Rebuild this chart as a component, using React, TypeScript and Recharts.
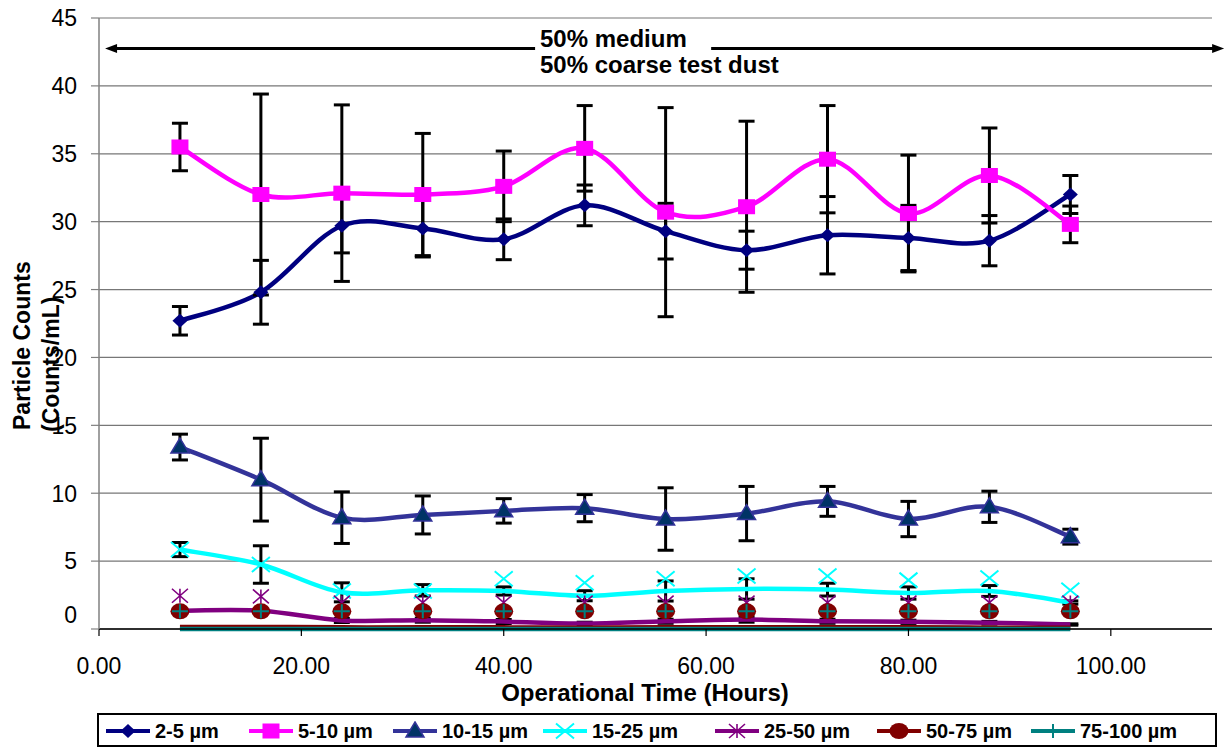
import React from 'react'
import { LineChart, Line, XAxis, YAxis, CartesianGrid, ErrorBar, ReferenceLine } from 'recharts'

const FONT = '"Liberation Sans", Arial, sans-serif'

// sampling times (hours)
const hours = [8, 16, 24, 32, 40, 48, 56, 64, 72, 80, 88, 96]

// mean counts and standard deviations per size band
const c2to5 = [22.7, 24.8, 29.7, 29.5, 28.7, 31.2, 29.3, 27.9, 29.0, 28.8, 28.6, 32.0]
const sd2to5 = [1.05, 2.35, 2.0, 2.1, 1.5, 1.5, 2.05, 1.4, 2.85, 2.4, 1.85, 1.4]

const c5to10 = [35.5, 32.0, 32.1, 32.0, 32.6, 35.4, 30.7, 31.1, 34.6, 30.6, 33.4, 29.8]
const sd5to10 = [1.75, 7.4, 6.5, 4.5, 2.6, 3.15, 7.7, 6.3, 3.95, 4.3, 3.5, 1.35]

const c10to15 = [13.4, 11.0, 8.2, 8.4, 8.7, 8.9, 8.1, 8.5, 9.4, 8.1, 9.0, 6.8]
const sd10to15 = [0.95, 3.05, 1.9, 1.4, 0.9, 1.0, 2.3, 2.0, 1.1, 1.3, 1.15, 0.55]

const c15to25 = [5.85, 4.75, 2.7, 2.85, 2.8, 2.45, 2.8, 2.95, 2.9, 2.65, 2.8, 1.95]
const sd15to25 = [0.52, 1.38, 0.7, 0.42, 0.3, 0.37, 0.74, 0.75, 0.47, 0.45, 0.4, 0.12]
const mk15to25 = [5.85, 4.75, 2.8, 2.8, 3.7, 3.4, 3.7, 3.9, 3.9, 3.6, 3.75, 2.85]

const c25to50 = [1.35, 1.35, 0.63, 0.65, 0.55, 0.4, 0.57, 0.7, 0.57, 0.53, 0.46, 0.33]
const sd25to50 = [0.1, 0.1, 0.15, 0.15, 0.15, 0.1, 0.15, 0.2, 0.15, 0.12, 0.1, 0.05]
const mk25to50 = [2.45, 2.4, 1.95, 1.95, 1.95, 1.95, 1.95, 1.95, 1.95, 1.95, 1.95, 1.95]

const c50to75 = [0.15, 0.15, 0.12, 0.12, 0.12, 0.1, 0.12, 0.12, 0.12, 0.12, 0.1, 0.1]
const mk50to75 = [1.3, 1.3, 1.3, 1.3, 1.3, 1.3, 1.3, 1.3, 1.3, 1.3, 1.3, 1.3]

const c75to100 = [0, 0, 0, 0, 0, 0, 0, 0, 0, 0, 0, 0]
const mk75to100 = [1.3, 1.3, 1.3, 1.3, 1.3, 1.3, 1.3, 1.3, 1.3, 1.3, 1.3, 1.3]

const xTicks = [0, 20, 40, 60, 80, 100]
const yTicks = [0, 5, 10, 15, 20, 25, 30, 35, 40, 45]

const rows = hours.map((t, i) => ({
  t,
  a: c2to5[i], ae: sd2to5[i],
  b: c5to10[i], be: sd5to10[i],
  c: c10to15[i], ce: sd10to15[i],
  d: c15to25[i], de: sd15to25[i], dm: mk15to25[i],
  e: c25to50[i], ee: sd25to50[i], em: mk25to50[i],
  f: c50to75[i], fm: mk50to75[i],
  g: c75to100[i], gm: mk75to100[i],
}))

type Kind = 'diamond' | 'square' | 'triangle' | 'x' | 'star' | 'circle' | 'plus'

const series: { name: string; color: string; kind: Kind }[] = [
  { name: '2-5 µm', color: '#000080', kind: 'diamond' },
  { name: '5-10 µm', color: '#FF00FF', kind: 'square' },
  { name: '10-15 µm', color: '#333399', kind: 'triangle' },
  { name: '15-25 µm', color: '#00FFFF', kind: 'x' },
  { name: '25-50 µm', color: '#800080', kind: 'star' },
  { name: '50-75 µm', color: '#800000', kind: 'circle' },
  { name: '75-100 µm', color: '#008080', kind: 'plus' },
]

// Excel-style smoothed line (uniform Catmull-Rom through the points)
const smooth = (context: any) => {
  let pts: number[][] = []
  return {
    areaStart() {},
    areaEnd() {},
    lineStart() {
      pts = []
    },
    point(x: number, y: number) {
      pts.push([+x, +y])
    },
    lineEnd() {
      const n = pts.length
      if (!n) return
      context.moveTo(pts[0][0], pts[0][1])
      for (let i = 0; i < n - 1; i++) {
        const p0 = pts[Math.max(0, i - 1)]
        const p1 = pts[i]
        const p2 = pts[i + 1]
        const p3 = pts[Math.min(n - 1, i + 2)]
        context.bezierCurveTo(
          p1[0] + (p2[0] - p0[0]) / 6,
          p1[1] + (p2[1] - p0[1]) / 6,
          p2[0] - (p3[0] - p1[0]) / 6,
          p2[1] - (p3[1] - p1[1]) / 6,
          p2[0],
          p2[1],
        )
      }
    },
  }
}

function marker(kind: Kind, cx: number, cy: number, key?: string) {
  switch (kind) {
    case 'diamond':
      return <polygon key={key} points={`${cx},${cy - 7} ${cx + 7.5},${cy} ${cx},${cy + 7} ${cx - 7.5},${cy}`} fill="#000080" />
    case 'square':
      return <rect key={key} x={cx - 8.5} y={cy - 7.5} width={17} height={15} fill="#FF00FF" />
    case 'triangle':
      return (
        <polygon key={key} points={`${cx},${cy - 9} ${cx + 9},${cy + 6} ${cx - 9},${cy + 6}`} fill="#003366" stroke="#333399" strokeWidth={1.5} />
      )
    case 'x':
      return (
        <path key={key} d={`M${cx - 9},${cy - 7.5}L${cx + 9},${cy + 7.5}M${cx - 9},${cy + 7.5}L${cx + 9},${cy - 7.5}`} stroke="#00FFFF" strokeWidth={2} fill="none" />
      )
    case 'star':
      return (
        <path
          key={key}
          d={`M${cx - 8},${cy - 7}L${cx + 8},${cy + 7}M${cx - 8},${cy + 7}L${cx + 8},${cy - 7}M${cx},${cy - 7}V${cy + 7}`}
          stroke="#800080"
          strokeWidth={1.6}
          fill="none"
        />
      )
    case 'circle':
      return <ellipse key={key} cx={cx} cy={cy} rx={9.5} ry={8} fill="#800000" />
    case 'plus':
      return <path key={key} d={`M${cx - 8},${cy}H${cx + 8}M${cx},${cy - 7}V${cy + 7}`} stroke="#008080" strokeWidth={2} fill="none" />
  }
}

const dotsOf = (kind: Kind) => (p: any) => marker(kind, p.cx, p.cy, `${kind}-${p.index}`)

const YTick = (p: any) => {
  const v = p.payload.value
  return (
    <text x={p.x} y={p.y + (v === 0 ? -14.5 : 0)} dy="0.36em" textAnchor="end" fontSize={23} fontFamily={FONT} fill="#000">
      {v}
    </text>
  )
}

const XTick = (p: any) => (
  <text x={p.x} y={p.y} textAnchor="middle" fontSize={23} fontFamily={FONT} fill="#000">
    {p.payload.value.toFixed(2)}
  </text>
)

const arrowLeft = (p: any) => (
  <g>
    <line x1={p.x1 + 8} y1={p.y1} x2={p.x2} y2={p.y2} stroke="#000" strokeWidth={3} />
    <polygon points={`${p.x1},${p.y1} ${p.x1 + 12},${p.y1 - 4.5} ${p.x1 + 12},${p.y1 + 4.5}`} fill="#000" />
  </g>
)

const arrowRight = (p: any) => (
  <g>
    <line x1={p.x1} y1={p.y1} x2={p.x2 - 8} y2={p.y2} stroke="#000" strokeWidth={3} />
    <polygon points={`${p.x2},${p.y2} ${p.x2 - 12},${p.y2 - 4.5} ${p.x2 - 12},${p.y2 + 4.5}`} fill="#000" />
  </g>
)

const legendLeft = [106, 249, 393, 543, 715, 877, 1031]

function LegendBox() {
  return (
    <div
      style={{
        position: 'absolute',
        left: 97,
        top: 713,
        width: 1120,
        height: 34,
        border: '2px solid #000',
        boxSizing: 'border-box',
        background: '#fff',
      }}
    >
      {series.map((s, i) => (
        <div
          key={s.name}
          style={{ position: 'absolute', left: legendLeft[i] - 99, top: 4, height: 24, display: 'flex', alignItems: 'center' }}
        >
          <svg width={44} height={20} style={{ display: 'block' }}>
            <line x1={0} y1={10} x2={44} y2={10} stroke={s.color} strokeWidth={4} />
            {marker(s.kind, 22, 10)}
          </svg>
          <span style={{ marginLeft: 5, fontFamily: FONT, fontWeight: 'bold', fontSize: 20, color: '#000', whiteSpace: 'nowrap' }}>
            {s.name}
          </span>
        </div>
      ))}
    </div>
  )
}

export default function App() {
  const lineProps = { isAnimationActive: false, activeDot: false as const, strokeWidth: 4.5, type: smooth as any }
  const markOnly = { isAnimationActive: false, activeDot: false as const, stroke: 'none', legendType: 'none' as const }
  const bar = { width: 8, strokeWidth: 3, stroke: '#000' }

  return (
    <div style={{ position: 'absolute', left: 0, top: 0, width: 1231, height: 747, background: '#fff', fontFamily: FONT }}>
      <LineChart width={1231} height={710} data={rows} margin={{ top: 18, right: 19, bottom: 31, left: 39 }}>
        <CartesianGrid vertical={false} stroke="#777" strokeWidth={1.2} />
        <XAxis
          dataKey="t"
          type="number"
          domain={[0, 110]}
          ticks={xTicks}
          height={50}
          tickSize={7}
          tickMargin={38}
          tick={<XTick />}
          axisLine={{ stroke: '#000', strokeWidth: 1.5 }}
          tickLine={{ stroke: '#000', strokeWidth: 1.2 }}
        />
        <YAxis
          type="number"
          domain={[0, 45]}
          ticks={yTicks}
          width={60}
          tickSize={8}
          tickMargin={14}
          tick={<YTick />}
          axisLine={{ stroke: '#808080', strokeWidth: 1.5 }}
          tickLine={{ stroke: '#808080', strokeWidth: 1.2 }}
        />

        <ReferenceLine segment={[{ x: 0.6, y: 42.75 }, { x: 43.1, y: 42.75 }]} ifOverflow="visible" shape={arrowLeft} />
        <ReferenceLine segment={[{ x: 60.5, y: 42.75 }, { x: 111.2, y: 42.75 }]} ifOverflow="visible" shape={arrowRight} />

        <Line dataKey="a" stroke="#000080" {...lineProps} dot={dotsOf('diamond')}>
          <ErrorBar dataKey="ae" {...bar} />
        </Line>
        <Line dataKey="b" stroke="#FF00FF" {...lineProps} dot={dotsOf('square')}>
          <ErrorBar dataKey="be" {...bar} />
        </Line>
        <Line dataKey="c" stroke="#333399" {...lineProps} dot={dotsOf('triangle')}>
          <ErrorBar dataKey="ce" {...bar} />
        </Line>
        <Line dataKey="d" stroke="#00FFFF" {...lineProps} dot={false}>
          <ErrorBar dataKey="de" {...bar} />
        </Line>
        <Line dataKey="dm" {...markOnly} dot={dotsOf('x')} />
        <Line dataKey="e" stroke="#800080" {...lineProps} dot={false}>
          <ErrorBar dataKey="ee" {...bar} />
        </Line>
        <Line dataKey="em" {...markOnly} dot={dotsOf('star')} />
        <Line dataKey="f" stroke="#800000" {...lineProps} dot={false} />
        <Line dataKey="fm" {...markOnly} dot={dotsOf('circle')} />
        <Line dataKey="g" stroke="#008080" {...lineProps} dot={false} />
        <Line dataKey="gm" {...markOnly} dot={dotsOf('plus')} />

        <g fontFamily={FONT} fontWeight="bold" fill="#000">
          <text x={540} y={47} fontSize={24}>50% medium</text>
          <text x={540} y={73} fontSize={24}>50% coarse test dust</text>
          <text x={645} y={701} fontSize={24} textAnchor="middle">Operational Time (Hours)</text>
          <text x={30} y={430} fontSize={23} transform="rotate(-90 30 430)">Particle Counts</text>
          <text x={59} y={432} fontSize={23} transform="rotate(-90 59 432)">(Counts/mL)</text>
        </g>
      </LineChart>
      <LegendBox />
    </div>
  )
}
